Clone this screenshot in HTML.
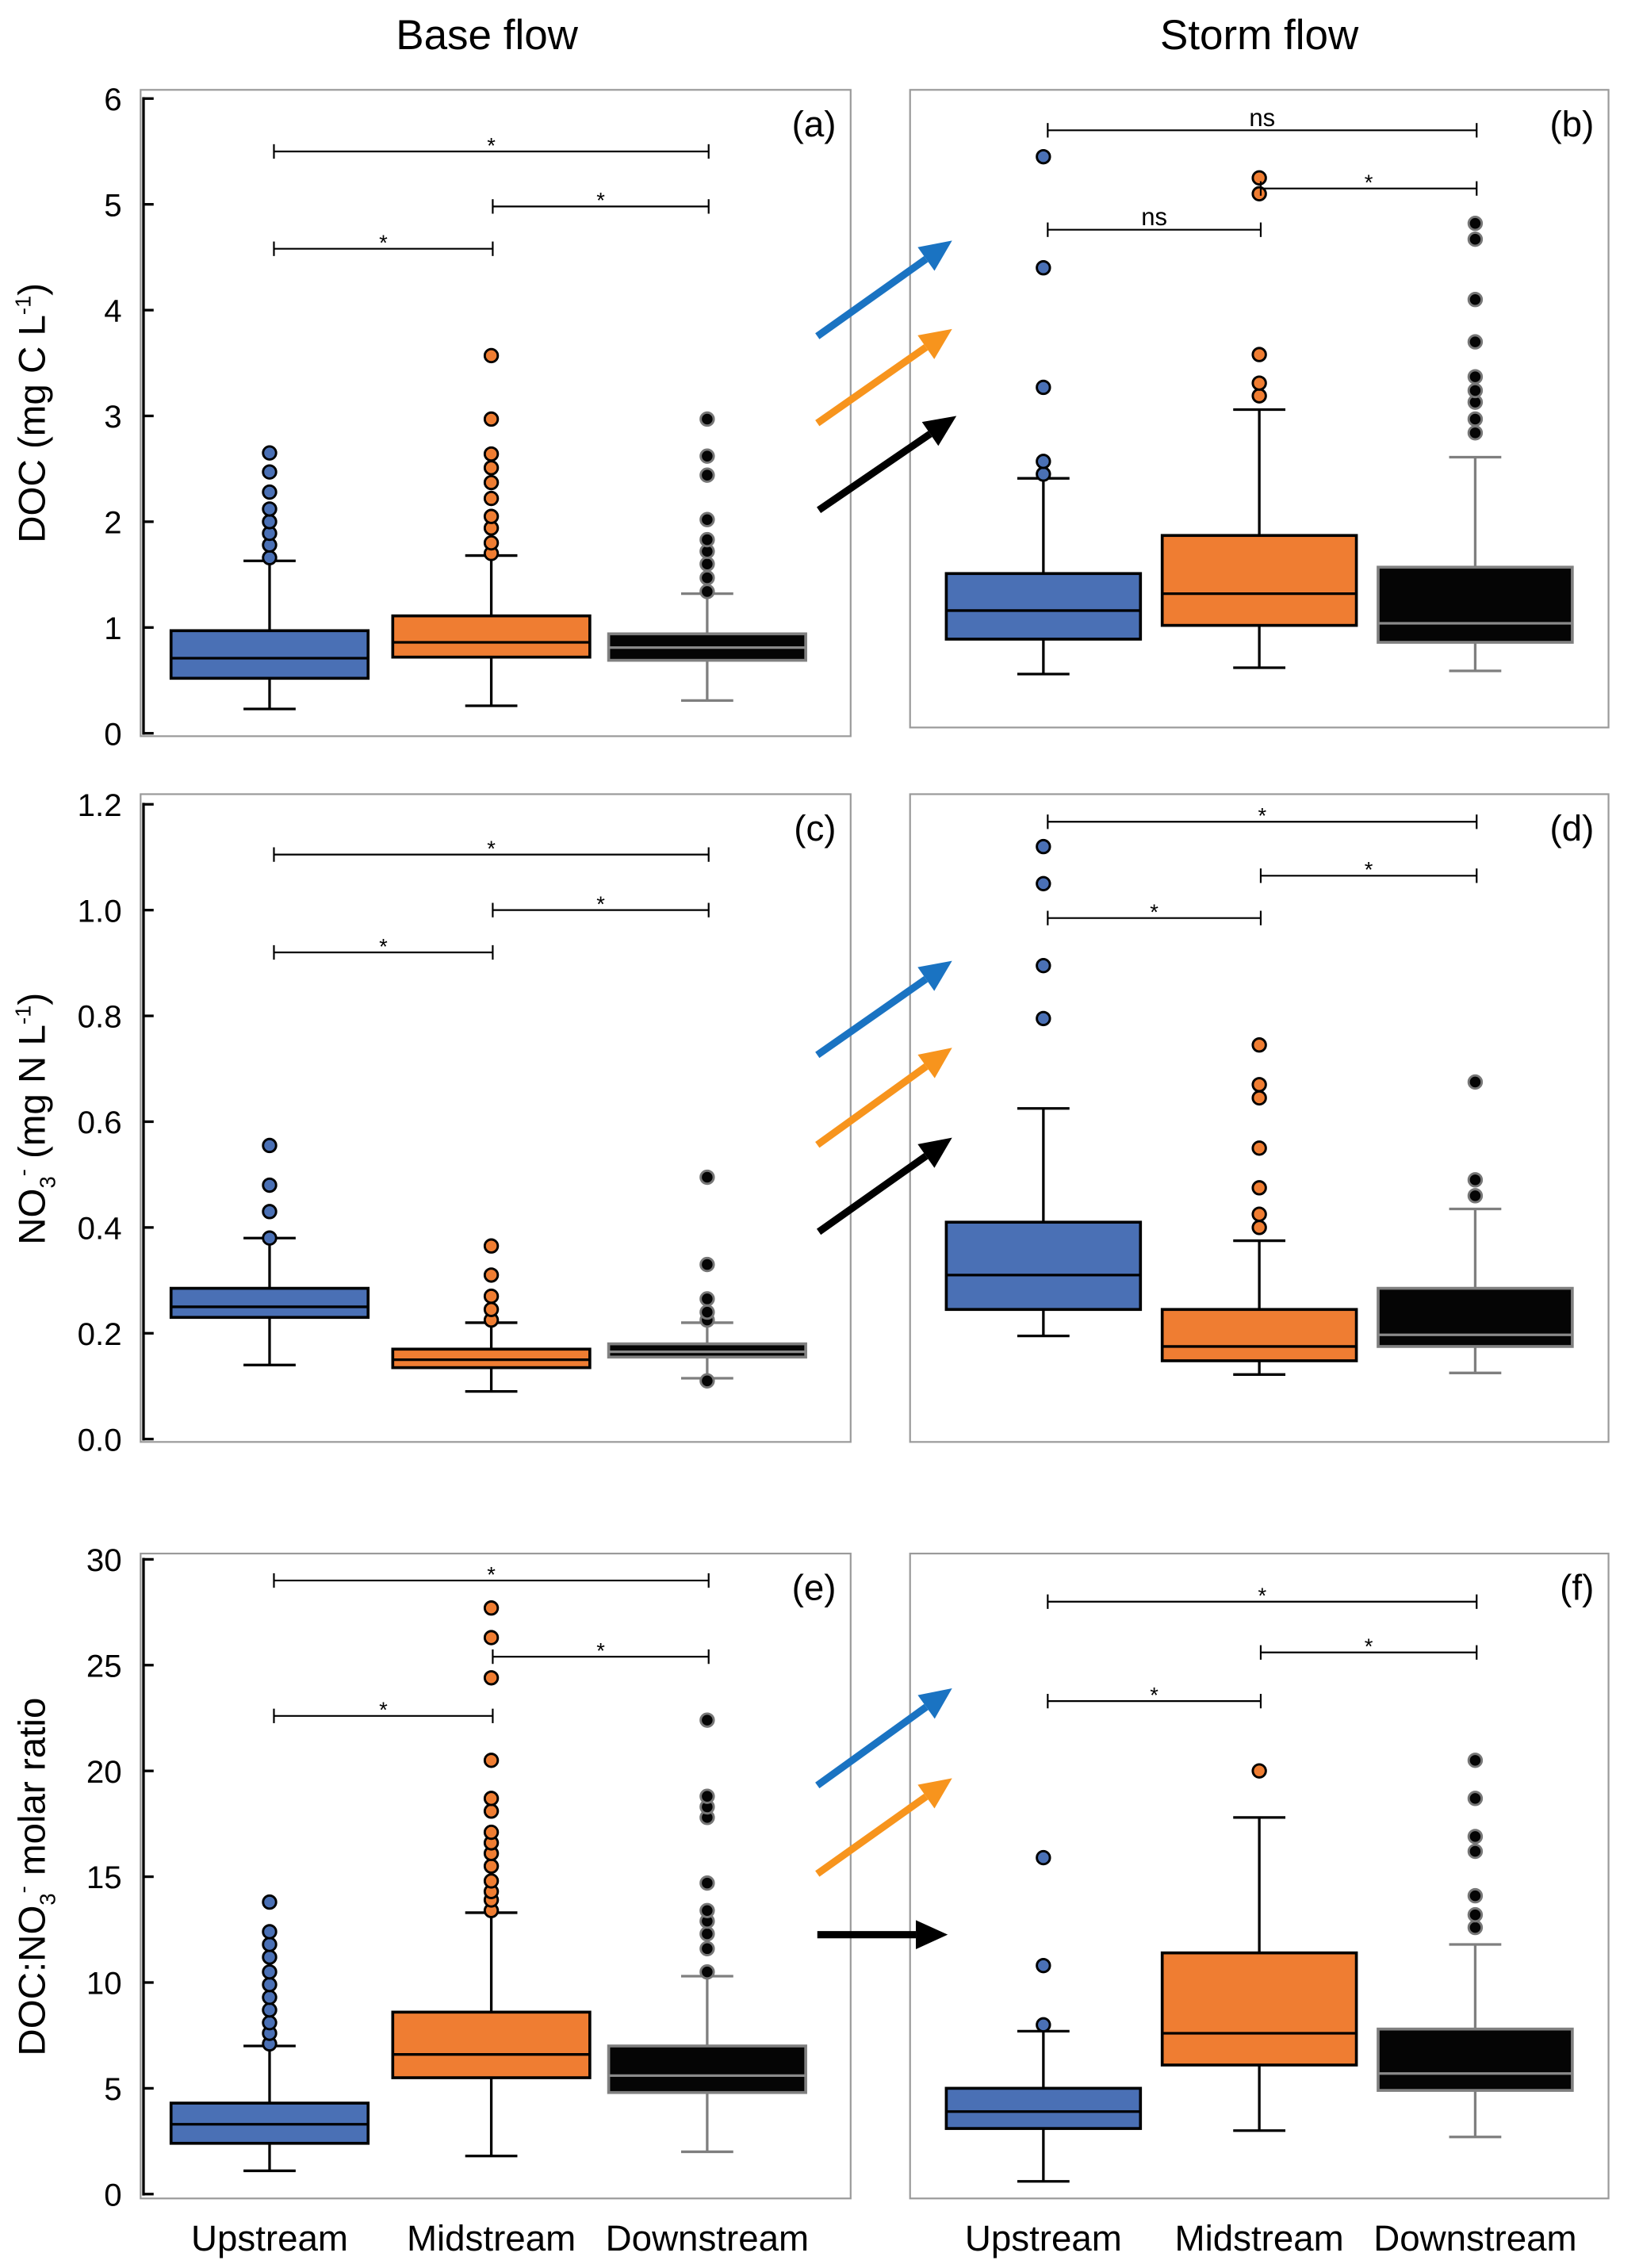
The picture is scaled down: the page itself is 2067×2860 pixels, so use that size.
<!DOCTYPE html>
<html><head><meta charset="utf-8"><style>
html,body{margin:0;padding:0;background:#fff}
svg{display:block}
text{font-family:"Liberation Sans","DejaVu Sans",sans-serif}
</style></head><body>
<svg id="fig" width="2067" height="2860" viewBox="0 0 1131 1565" xmlns="http://www.w3.org/2000/svg">
<text x="336" y="34" font-size="29" text-anchor="middle">Base flow</text>
<text x="869" y="34" font-size="29" text-anchor="middle">Storm flow</text>
</svg>
<script>
// ---- data ----
const categories = ["Upstream","Midstream","Downstream"];
// [lowerWhisker, q1, median, q3, upperWhisker]
const docBase = [[0.23,0.52,0.71,0.97,1.63],[0.26,0.72,0.86,1.11,1.68],[0.31,0.69,0.81,0.94,1.32]];
const docBaseOut = [[1.66,1.78,1.89,2.0,2.12,2.28,2.47,2.65],[1.7,1.8,1.94,2.05,2.22,2.37,2.51,2.64,2.97,3.57],[1.34,1.47,1.6,1.72,1.83,2.02,2.44,2.62,2.97]];
const docStorm = [[0.56,0.89,1.16,1.51,2.41],[0.62,1.02,1.32,1.87,3.06],[0.59,0.86,1.04,1.57,2.61]];
const docStormOut = [[2.45,2.57,3.27,4.4,5.45],[3.19,3.31,3.58,5.1,5.25],[2.84,2.97,3.13,3.24,3.37,3.7,4.1,4.67,4.82]];
const no3Base = [[0.14,0.23,0.25,0.285,0.38],[0.09,0.135,0.15,0.17,0.22],[0.115,0.155,0.165,0.18,0.22]];
const no3BaseOut = [[0.38,0.43,0.48,0.555],[0.225,0.245,0.27,0.31,0.365],[0.11,0.225,0.24,0.265,0.33,0.495]];
const no3Storm = [[0.195,0.245,0.31,0.41,0.625],[0.122,0.148,0.175,0.245,0.375],[0.125,0.175,0.197,0.285,0.435]];
const no3StormOut = [[0.795,0.895,1.05,1.12],[0.4,0.425,0.475,0.55,0.645,0.67,0.745],[0.46,0.49,0.675]];
const ratioBase = [[1.1,2.4,3.3,4.3,7.0],[1.8,5.5,6.6,8.6,13.3],[2.0,4.8,5.6,7.0,10.3]];
const ratioBaseOut = [[7.1,7.6,8.1,8.7,9.3,9.9,10.5,11.2,11.8,12.4,13.8],[13.4,13.9,14.3,14.8,15.5,16.1,16.6,17.1,18.1,18.7,20.5,24.4,26.3,27.7],[10.5,11.6,12.3,12.9,13.4,14.7,17.8,18.3,18.8,22.4]];
const ratioStorm = [[0.6,3.1,3.9,5.0,7.7],[3.0,6.1,7.6,11.4,17.8],[2.7,4.9,5.7,7.8,11.8]];
const ratioStormOut = [[8.0,10.8,15.9],[20.0],[12.6,13.2,14.1,16.2,16.9,18.7,20.5]];
// brackets: [fromIdx, toIdx, yValue, label]
const bracketsA = [[0,2,5.5,"*"],[1,2,4.98,"*"],[0,1,4.58,"*"]];
const bracketsB = [[0,2,5.7,"ns"],[1,2,5.15,"*"],[0,1,4.76,"ns"]];
const bracketsC = [[0,2,1.105,"*"],[1,2,1.0,"*"],[0,1,0.92,"*"]];
const bracketsD = [[0,2,1.167,"*"],[1,2,1.065,"*"],[0,1,0.985,"*"]];
const bracketsE = [[0,2,29.0,"*"],[1,2,25.4,"*"],[0,1,22.6,"*"]];
const bracketsF = [[0,2,28.0,"*"],[1,2,25.6,"*"],[0,1,23.3,"*"]];
const ticksDoc = ["0","1","2","3","4","5","6"];
const ticksNo3 = ["0.0","0.2","0.4","0.6","0.8","1.0","1.2"];
const ticksRatio = ["0","5","10","15","20","25","30"];

const NS="http://www.w3.org/2000/svg";
const svg=document.getElementById('fig');
function mk(tag,attrs,parent){const e=document.createElementNS(NS,tag);for(const k in attrs)e.setAttribute(k,attrs[k]);(parent||svg).appendChild(e);return e;}
const fills=["#4a70b5","#ef7d32","#050505"];
const strokes=["#000","#000","#808080"];
const medStroke=["#000","#000","#8a8a8a"];

function panel(cfg){
  const g=mk('g',{});
  
  
  const fr=mk('rect',{x:cfg.fx0,y:cfg.fy0,width:cfg.fx1-cfg.fx0,height:cfg.fy1-cfg.fy0,fill:'none',stroke:'#9a9a9a','stroke-width':1.2},g);
  
  
  const y=v=>cfg.y0+(v-cfg.vmin)/(cfg.vmax-cfg.vmin)*(cfg.y1-cfg.y0);
  const xc=i=>cfg.cx[i];
  if(cfg.ticks){
    const ax=mk('line',{x1:99,x2:99,y1:y(cfg.vmax)-1,y2:y(cfg.vmin)+1,stroke:'#000','stroke-width':1.8},g);
    
    
    const n=cfg.ticks.length;
    cfg.ticks.forEach((t,i)=>{
      const v=cfg.vmin+(cfg.vmax-cfg.vmin)*i/(n-1);
      mk('line',{x1:99,x2:106,y1:y(v),y2:y(v),stroke:'#000','stroke-width':1.8},g);
      const tx=mk('text',{x:84,y:y(v)+8,'font-size':22,'text-anchor':'end'},g);
      tx.textContent=t;
      
      
    });
  }
  const pl=mk('text',{x:cfg.fx1-10,y:cfg.fy0+32,'font-size':25,'text-anchor':'end'},g);
  pl.textContent='('+cfg.tag+')';
  
  
  cfg.boxes.forEach((b,i)=>{
    const c=xc(i),hw=cfg.hw,cap=18;
    const bg=mk('g',{},g);
    
    
    const ws=i==2?'#7f7f7f':'#000';
    mk('line',{x1:c,x2:c,y1:y(b[0]),y2:y(b[1]),stroke:ws,'stroke-width':1.8},bg);
    mk('line',{x1:c,x2:c,y1:y(b[3]),y2:y(b[4]),stroke:ws,'stroke-width':1.8},bg);
    mk('line',{x1:c-cap,x2:c+cap,y1:y(b[0]),y2:y(b[0]),stroke:ws,'stroke-width':1.8},bg);
    mk('line',{x1:c-cap,x2:c+cap,y1:y(b[4]),y2:y(b[4]),stroke:ws,'stroke-width':1.8},bg);
    mk('rect',{x:c-hw,y:y(b[3]),width:2*hw,height:y(b[1])-y(b[3]),fill:fills[i],stroke:strokes[i],'stroke-width':2},bg);
    mk('line',{x1:c-hw,x2:c+hw,y1:y(b[2]),y2:y(b[2]),stroke:medStroke[i],'stroke-width':1.8},bg);
    cfg.out[i].forEach(v=>{
      const o=mk('circle',{cx:c,cy:y(v),r:4.5,fill:fills[i],stroke:i==2?'#777':'#000','stroke-width':1.6},bg);
      
      
    });
  });
  cfg.br.forEach(br=>{
    const bg=mk('g',{},g);
    
    
    const x1=xc(br[0])+(br[0]==1?1:3),x2=xc(br[1])+1,yy=y(br[2]);
    mk('line',{x1:x1,x2:x2,y1:yy,y2:yy,stroke:'#000','stroke-width':1.2},bg);
    mk('line',{x1:x1,x2:x1,y1:yy-5,y2:yy+5,stroke:'#000','stroke-width':1.2},bg);
    mk('line',{x1:x2,x2:x2,y1:yy-5,y2:yy+5,stroke:'#000','stroke-width':1.2},bg);
    const t=mk('text',{x:(x1+x2)/2,y:br[3]=='*'?yy+1:yy-3,'font-size':br[3]=='*'?15:17,'text-anchor':'middle'},bg);
    t.textContent=br[3];
  });
}
const leftCx=[186,339,488], rightCx=[720,869,1018];
panel({tag:'a',fx0:97,fx1:587,fy0:62,fy1:508,y0:506,y1:68,vmin:0,vmax:6,cx:leftCx,hw:68,boxes:docBase,out:docBaseOut,br:bracketsA,ticks:ticksDoc});
panel({tag:'b',fx0:628,fx1:1110,fy0:62,fy1:502,y0:506,y1:68,vmin:0,vmax:6,cx:rightCx,hw:67,boxes:docStorm,out:docStormOut,br:bracketsB});
panel({tag:'c',fx0:97,fx1:587,fy0:548,fy1:995,y0:993,y1:555,vmin:0,vmax:1.2,cx:leftCx,hw:68,boxes:no3Base,out:no3BaseOut,br:bracketsC,ticks:ticksNo3});
panel({tag:'d',fx0:628,fx1:1110,fy0:548,fy1:995,y0:993,y1:555,vmin:0,vmax:1.2,cx:rightCx,hw:67,boxes:no3Storm,out:no3StormOut,br:bracketsD});
panel({tag:'e',fx0:97,fx1:587,fy0:1072,fy1:1517,y0:1514,y1:1076,vmin:0,vmax:30,cx:leftCx,hw:68,boxes:ratioBase,out:ratioBaseOut,br:bracketsE,ticks:ticksRatio});
panel({tag:'f',fx0:628,fx1:1110,fy0:1072,fy1:1517,y0:1514,y1:1076,vmin:0,vmax:30,cx:rightCx,hw:67,boxes:ratioStorm,out:ratioStormOut,br:bracketsF});

// x labels
[[leftCx],[rightCx]].forEach(([cx])=>{
  categories.forEach((c,i)=>{
    const t=mk('text',{x:cx[i],y:1553,'font-size':25,'text-anchor':'middle'});
    t.textContent=c;
    
    
  });
});
// y titles
function ytitle(yc,html,name){
  const t=mk('text',{transform:'translate(31,'+yc+') rotate(-90)','font-size':26,'text-anchor':'middle'});
  t.innerHTML=html;
  
  
}
ytitle(285,'DOC (mg C L<tspan font-size="15" dy="-10">-1</tspan><tspan dy="10">)</tspan>','y-axis-title-doc');
ytitle(772,'NO<tspan font-size="15" dy="7">3</tspan><tspan font-size="15" dy="-17">-</tspan><tspan dy="10"> (mg N L</tspan><tspan font-size="15" dy="-10">-1</tspan><tspan dy="10">)</tspan>','y-axis-title-no3');
ytitle(1295,'DOC:NO<tspan font-size="15" dy="7">3</tspan><tspan font-size="15" dy="-17">-</tspan><tspan dy="10"> molar ratio</tspan>','y-axis-title-ratio');

// arrows
const arrows=[[564,232,657,166,'#1a73c2'],[564,292,657,227,'#f7941d'],[565,352,660,287,'#000'],
[564,728,657,663,'#1a73c2'],[564,790,657,723,'#f7941d'],[565,850,657,785,'#000'],
[564,1232,657,1165,'#1a73c2'],[564,1293,657,1227,'#f7941d'],[564,1335,654,1335,'#000']];
arrows.forEach(a=>{
  const [x1,y1,x2,y2,col]=a;
  const g=mk('g',{});
  
  
  const dx=x2-x1,dy=y2-y1,L=Math.hypot(dx,dy),ux=dx/L,uy=dy/L,hl=22,hw=10;
  const bx=x2-ux*hl,by=y2-uy*hl;
  mk('line',{x1:x1,y1:y1,x2:bx,y2:by,stroke:col,'stroke-width':5},g);
  mk('polygon',{points:`${x2},${y2} ${bx-uy*hw},${by+ux*hw} ${bx+uy*hw},${by-ux*hw}`,fill:col},g);
});
</script>
</body></html>
